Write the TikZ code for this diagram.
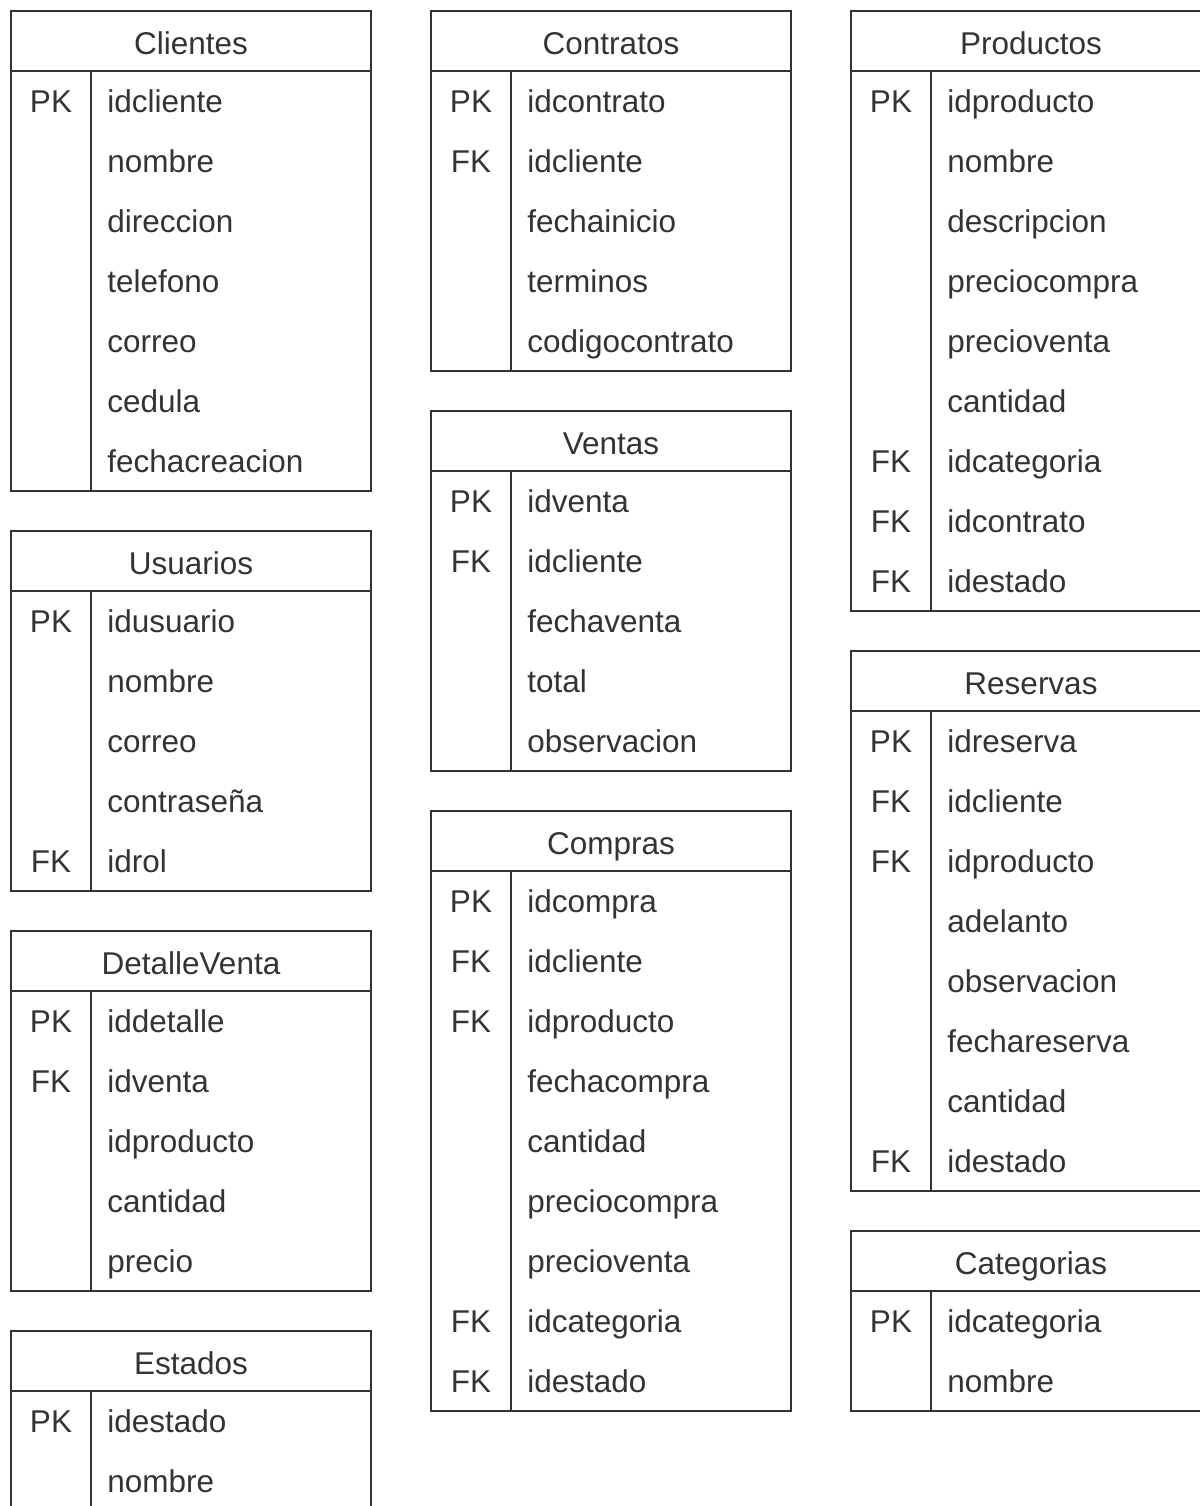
\documentclass[tikz,border=0pt]{standalone}
\usepackage{fontspec}
\setmainfont{Liberation Sans}
\usetikzlibrary{positioning}
\definecolor{erLine}{RGB}{51,51,51}
\definecolor{erText}{RGB}{51,51,51}

% one entity box: name, left, top, title, key/field rows
\newcommand{\erTable}[5]{%
  \node[ttl] (#1) at (#2+180,#3+43) {#4};
  \foreach [count=\rowi] \k/\f in {#5} {
    \node[keyc] (#1-k\rowi) at (#2+40,#3+41+60*\rowi) {\k};
    \node[fld] (#1-f\rowi) at (#2+96,#3+41+60*\rowi) {\f};
    \xdef\nrows{\rowi}
  }
  \draw[frame] (#2,#3) rectangle (#2+360,#3+60+60*\nrows);
  \draw[frame] (#2,#3+60) -- (#2+360,#3+60);
  \draw[frame] (#2+80,#3+60) -- (#2+80,#3+60+60*\nrows);
}

\begin{document}
\begin{tikzpicture}[x=0.5pt,y=-0.5pt,font=\fontsize{15.75pt}{18pt}\selectfont]
  \tikzset{frame/.style={draw=erLine,line width=0.8pt},
    ttl/.style={anchor=base,inner sep=0pt,text=erText},
    keyc/.style={anchor=base,inner sep=0pt,text=erText},
    fld/.style={anchor=base west,inner sep=0pt,text=erText}}
  \useasboundingbox (0,0) rectangle (1200,1506);
  \clip (0,0) rectangle (1200,1506);
  % left column
  \erTable{clientes}{11}{11}{Clientes}{PK/idcliente,{}/nombre,{}/direccion,{}/telefono,{}/correo,{}/cedula,{}/fechacreacion}
  \erTable{usuarios}{11}{531}{Usuarios}{PK/idusuario,{}/nombre,{}/correo,{}/contraseña,FK/idrol}
  \erTable{detalle}{11}{931}{DetalleVenta}{PK/iddetalle,FK/idventa,{}/idproducto,{}/cantidad,{}/precio}
  \erTable{estados}{11}{1331}{Estados}{PK/idestado,{}/nombre}
  % middle column
  \erTable{contratos}{431}{11}{Contratos}{PK/idcontrato,FK/idcliente,{}/fechainicio,{}/terminos,{}/codigocontrato}
  \erTable{ventas}{431}{411}{Ventas}{PK/idventa,FK/idcliente,{}/fechaventa,{}/total,{}/observacion}
  \erTable{compras}{431}{811}{Compras}{PK/idcompra,FK/idcliente,FK/idproducto,{}/fechacompra,{}/cantidad,{}/preciocompra,{}/precioventa,FK/idcategoria,FK/idestado}
  % right column
  \erTable{productos}{851}{11}{Productos}{PK/idproducto,{}/nombre,{}/descripcion,{}/preciocompra,{}/precioventa,{}/cantidad,FK/idcategoria,FK/idcontrato,FK/idestado}
  \erTable{reservas}{851}{651}{Reservas}{PK/idreserva,FK/idcliente,FK/idproducto,{}/adelanto,{}/observacion,{}/fechareserva,{}/cantidad,FK/idestado}
  \erTable{categorias}{851}{1231}{Categorias}{PK/idcategoria,{}/nombre}
\end{tikzpicture}
\end{document}
